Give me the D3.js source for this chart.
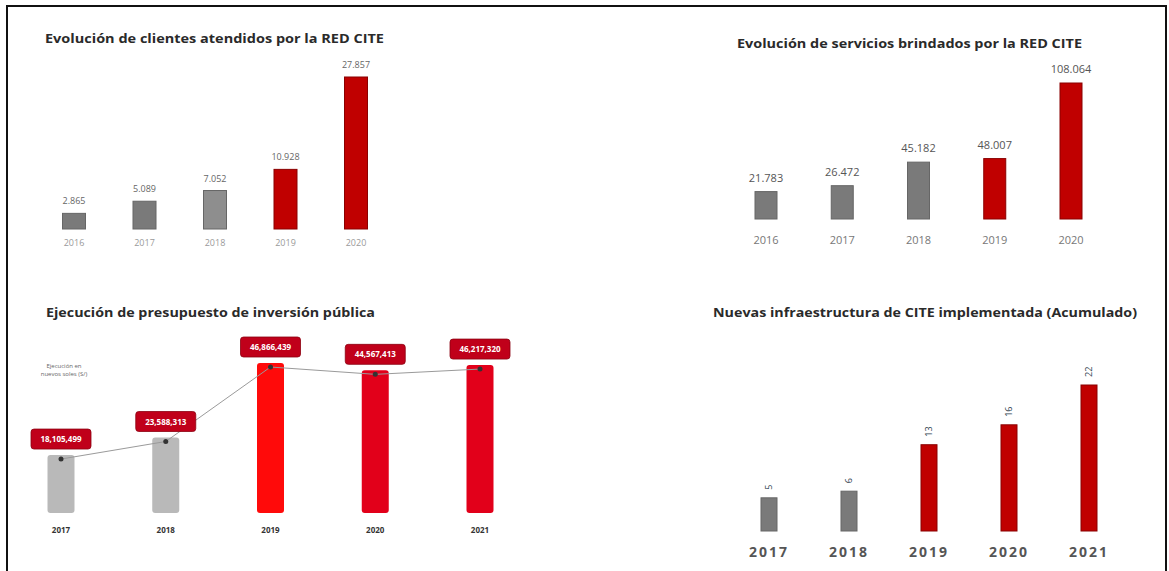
<!DOCTYPE html>
<html>
<head>
<meta charset="utf-8">
<script src="https://cdn.jsdelivr.net/npm/d3@7"></script>
<style>
  body { margin: 0; background: #fff; }
  svg { display: block; }
</style>
</head>
<body>
<div id="wrapper"></div>
<script>
// clientes atendidos
const clientesYears = [2016, 2017, 2018, 2019, 2020];
const clientesValues = [2865, 5089, 7052, 10928, 27857];

// servicios brindados
const serviciosYears = [2016, 2017, 2018, 2019, 2020];
const serviciosValues = [21783, 26472, 45182, 48007, 108064];

// presupuesto de inversion publica
const presupuestoYears = [2017, 2018, 2019, 2020, 2021];
const presupuestoValues = [18105499, 23588313, 46866439, 44567413, 46217320];

// infraestructura acumulada
const infraYears = [2017, 2018, 2019, 2020, 2021];
const infraValues = [5, 6, 13, 16, 22];

const titles = [
    "Evolución de clientes atendidos por la RED CITE",
    "Evolución de servicios brindados por la RED CITE",
    "Ejecución de presupuesto de inversión pública",
    "Nuevas infraestructura de CITE implementada (Acumulado)",
];
const unitNote = ["Ejecución en", "nuevos soles (S/)"];

const FONT = "'Open Sans', 'DejaVu Sans', sans-serif";
const RED = "#c00000";
const GREY = "#7a7a7a";
const HIGHLIGHT_FROM = 2019;

const dotLocale = d3.formatLocale({ decimal: ",", thousands: ".", grouping: [3], currency: ["", ""] });
const fmtDot = dotLocale.format(",");
const fmtComma = d3.format(",");

const svg = d3.select("#wrapper")
    .append("svg")
    .attr("width", 1169)
    .attr("height", 571);

svg.append("rect")
    .attr("x", 7)
    .attr("y", 6)
    .attr("width", 1159)
    .attr("height", 600)
    .attr("fill", "none")
    .attr("stroke", "#111")
    .attr("stroke-width", 2);

function addTitle(text, x, y, len) {
    svg.append("text")
        .attr("x", x)
        .attr("y", y)
        .attr("textLength", len)
        .attr("lengthAdjust", "spacingAndGlyphs")
        .style("font-family", FONT)
        .style("font-size", "12px")
        .style("font-weight", 700)
        .attr("fill", "#2a2a2a")
        .text(text);
}

function simpleBars(cfg) {
    const data = cfg.years.map((y, i) => ({ year: y, value: cfg.values[i] }));
    const x = d3.scalePoint().domain(cfg.years).range(cfg.xRange);
    const y = d3.scaleLinear().domain([0, d3.max(cfg.values)]).range([cfg.base, cfg.top]);
    const g = svg.append("g");

    g.selectAll("rect")
        .data(data)
        .enter().append("rect")
        .attr("x", d => x(d.year) - cfg.barWidth / 2)
        .attr("y", d => y(d.value))
        .attr("width", cfg.barWidth)
        .attr("height", d => cfg.base - y(d.value))
        .attr("fill", cfg.color)
        .attr("stroke", d => d.year >= HIGHLIGHT_FROM ? "#8a0000" : "#666")
        .attr("stroke-width", 1);

    g.selectAll(".year")
        .data(data)
        .enter().append("text")
        .attr("x", d => x(d.year))
        .attr("y", cfg.yearY)
        .attr("text-anchor", "middle")
        .style("font-family", FONT)
        .style("font-size", cfg.yearSize)
        .style("font-weight", cfg.yearWeight || 400)
        .style("letter-spacing", cfg.yearSpacing || "0px")
        .attr("fill", cfg.yearColor)
        .text(d => d.year);

    return { data, x, y, g };
}

// chart 1
addTitle(titles[0], 45, 43, 339);
const c1 = simpleBars({
    years: clientesYears, values: clientesValues,
    xRange: [74, 356], base: 229, top: 77, barWidth: 23,
    color: d => d.year >= HIGHLIGHT_FROM ? RED : (d.year === 2018 ? "#8e8e8e" : GREY),
    yearY: 246, yearSize: "9px", yearColor: "#9a9a9a",
});
c1.g.selectAll(".val")
    .data(c1.data)
    .enter().append("text")
    .attr("x", d => c1.x(d.year))
    .attr("y", d => c1.y(d.value) - 9)
    .attr("text-anchor", "middle")
    .style("font-family", FONT)
    .style("font-size", "9px")
    .attr("fill", "#666")
    .text(d => fmtDot(d.value));

// chart 2
addTitle(titles[1], 737, 48, 345);
const c2 = simpleBars({
    years: serviciosYears, values: serviciosValues,
    xRange: [766, 1071], base: 219, top: 83, barWidth: 22,
    color: d => d.year >= HIGHLIGHT_FROM ? RED : GREY,
    yearY: 244, yearSize: "11px", yearColor: "#777",
});
c2.g.selectAll(".val")
    .data(c2.data)
    .enter().append("text")
    .attr("x", d => c2.x(d.year))
    .attr("y", d => c2.y(d.value) - 10)
    .attr("text-anchor", "middle")
    .style("font-family", FONT)
    .style("font-size", "11px")
    .attr("fill", "#555")
    .text(d => fmtDot(d.value));

// chart 3
addTitle(titles[2], 46, 317, 329);
const c3 = simpleBars({
    years: presupuestoYears, values: presupuestoValues,
    xRange: [61, 480], base: 513, top: 363, barWidth: 27,
    color: d => d.year < HIGHLIGHT_FROM ? "#b9b9b9" : (d.year === 2019 ? "#ff0a0a" : "#e2001a"),
    yearY: 533, yearSize: "8px", yearWeight: 700, yearColor: "#333",
});
c3.g.selectAll("rect")
    .attr("stroke", "none")
    .attr("rx", 3);

c3.g.append("path")
    .datum(c3.data)
    .attr("fill", "none")
    .attr("stroke", "#9a9a9a")
    .attr("stroke-width", 1)
    .attr("d", d3.line()
        .x(d => c3.x(d.year))
        .y(d => c3.y(d.value) + 4));

c3.g.selectAll(".dot")
    .data(c3.data)
    .enter().append("circle")
    .attr("cx", d => c3.x(d.year))
    .attr("cy", d => c3.y(d.value) + 4)
    .attr("r", 2.5)
    .attr("fill", "#333");

const boxes = c3.g.selectAll(".box")
    .data(c3.data)
    .enter().append("g")
    .attr("transform", d => `translate(${c3.x(d.year)},${c3.y(d.value) - 16})`);

boxes.append("rect")
    .attr("x", -30)
    .attr("y", -10)
    .attr("width", 60)
    .attr("height", 20)
    .attr("rx", 3)
    .attr("fill", "#c0001a")
    .attr("stroke", "#8c0010")
    .attr("stroke-width", 0.8);

boxes.append("text")
    .attr("y", 3)
    .attr("text-anchor", "middle")
    .style("font-family", FONT)
    .style("font-size", "8px")
    .style("font-weight", 700)
    .attr("fill", "#fff")
    .text(d => fmtComma(d.value));

svg.selectAll(".note")
    .data(unitNote)
    .enter().append("text")
    .attr("x", 64)
    .attr("y", (d, i) => 368 + i * 8)
    .attr("text-anchor", "middle")
    .style("font-family", FONT)
    .style("font-size", "6px")
    .attr("fill", "#666")
    .text(d => d);

// chart 4
addTitle(titles[3], 713, 317, 424);
const c4 = simpleBars({
    years: infraYears, values: infraValues,
    xRange: [769, 1089], base: 531, top: 385, barWidth: 16,
    color: d => d.year >= HIGHLIGHT_FROM ? RED : GREY,
    yearY: 557, yearSize: "14px", yearWeight: 700, yearSpacing: "2px", yearColor: "#555",
});
c4.g.selectAll(".val")
    .data(c4.data)
    .enter().append("text")
    .attr("transform", d => `translate(${c4.x(d.year) + 3},${c4.y(d.value) - 8}) rotate(-90)`)
    .style("font-family", FONT)
    .style("font-size", "9px")
    .attr("fill", "#2f3f4f")
    .text(d => d.value);
</script>
</body>
</html>
